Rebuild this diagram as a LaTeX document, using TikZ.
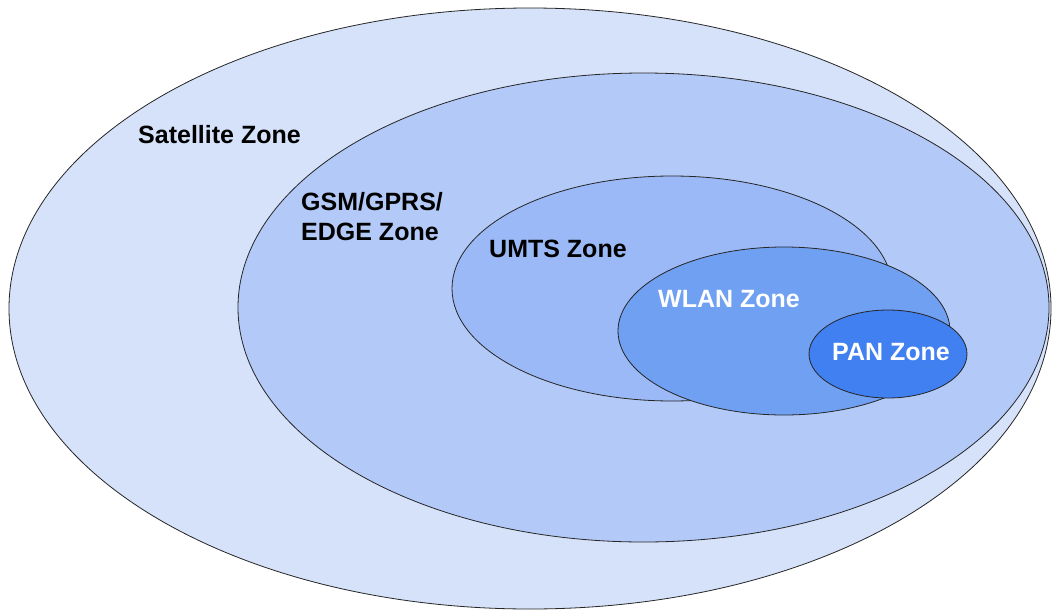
\documentclass[tikz,border=0pt]{standalone}
\usepackage{fontspec}
\setmainfont{Liberation Sans}
\definecolor{satc}{HTML}{D6E2FA}
\definecolor{gsmc}{HTML}{B3CAF8}
\definecolor{umtsc}{HTML}{9BB9F6}
\definecolor{wlanc}{HTML}{70A0F2}
\definecolor{panc}{HTML}{4080F0}
\begin{document}
\begin{tikzpicture}[x=1pt,y=-1pt,
  zone/.style={draw=black!85,line width=0.8pt},
  lbl/.style={anchor=base west,inner sep=0pt,font=\fontsize{25}{30}\selectfont\bfseries},
  lblw/.style={lbl,text=white}]
\useasboundingbox (0,0) rectangle (1054,610);
\fill[white] (0,0) rectangle (1054,610);
\draw[zone,fill=satc] (530,308.5) ellipse [x radius=521,y radius=300.5];
\draw[zone,fill=gsmc] (643.5,307.5) ellipse [x radius=405.5,y radius=234.5];
\draw[zone,fill=umtsc] (672,288.5) ellipse [x radius=220,y radius=112.5];
\draw[zone,fill=wlanc] (784,331) ellipse [x radius=166,y radius=84];
\draw[zone,fill=panc] (888,354) ellipse [x radius=79,y radius=44];
\node[lbl] (sat) at (138,143) {Satellite Zone};
\node[lbl] (gsm1) at (301,210) {GSM/GPRS/};
\node[lbl] (gsm2) at (301,240) {EDGE Zone};
\node[lbl] (umts) at (489,257) {UMTS Zone};
\node[lblw] (wlan) at (658,307) {WLAN Zone};
\node[lblw] (pan) at (832,360) {PAN Zone};
\end{tikzpicture}
\end{document}
